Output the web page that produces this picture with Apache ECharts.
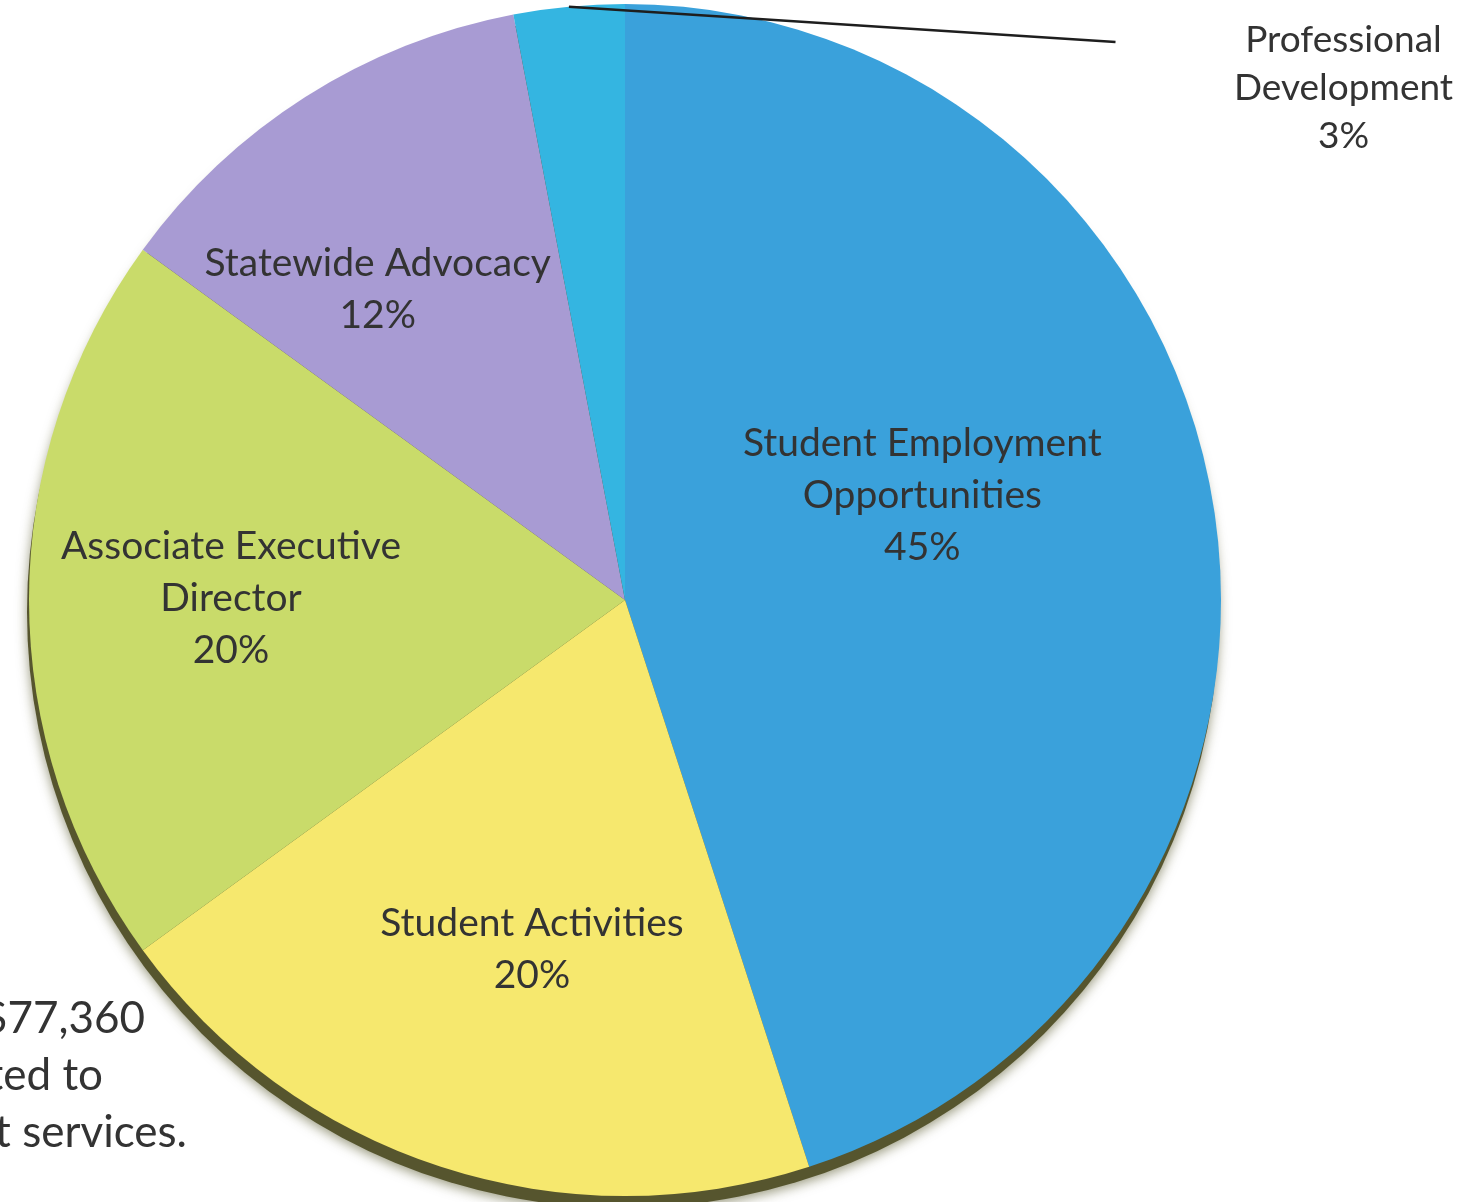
<!DOCTYPE html>
<html>
<head>
<meta charset="utf-8">
<script src="https://cdn.jsdelivr.net/npm/echarts@6/dist/echarts.min.js"></script>
<style>
html, body { margin: 0; padding: 0; background: #fff; }
#chart { width: 1471px; height: 1202px; }
</style>
</head>
<body>
<div id="chart"></div>
<script>
// 항목 / 비율
const categories = ['Student Employment Opportunities', 'Student Activities', 'Associate Executive Director', 'Statewide Advocacy', 'Professional Development'];
const shares = [45, 20, 20, 12, 3];
const labelText = ['Student Employment\nOpportunities', 'Student Activities', 'Associate Executive\nDirector', 'Statewide Advocacy', 'Professional\nDevelopment'];
const noteLines = ['$77,360', 'allocated to', 'student services.'];

const sliceColors = ['#3aa1db', '#f6e86e', '#c9db6a', '#a89bd3', '#34b5e1'];
// 라벨 위치 보정 (px)
const labelShift = [[0, -57], [0, 63], [-93, -2], [-86, -56], [0, 0]];

const chart = echarts.init(document.getElementById('chart'));

const pieCenter = [625, 600];
const pieRadius = 596;
const total = shares.reduce((a, b) => a + b, 0);

const option = {
    animation: false,
    backgroundColor: '#ffffff',
    series: [
        {
            // 아래쪽 그림자
            type: 'pie',
            silent: true,
            center: [pieCenter[0] - 2, pieCenter[1] + 12],
            radius: pieRadius,
            label: { show: false },
            labelLine: { show: false },
            itemStyle: {
                color: '#56552e',
                shadowBlur: 12,
                shadowOffsetY: 3,
                shadowColor: 'rgba(70,70,20,0.55)'
            },
            data: [{ name: 'total', value: total }]
        },
        {
            type: 'pie',
            center: pieCenter,
            radius: pieRadius,
            startAngle: 90,
            clockwise: true,
            color: sliceColors,
            itemStyle: { borderWidth: 0 },
            label: {
                show: true,
                position: 'inside',
                formatter: p => labelText[p.dataIndex] + '\n' + p.percent + '%',
                fontFamily: 'Lato',
                fontSize: 39,
                lineHeight: 52,
                color: '#333333',
                align: 'center'
            },
            labelLine: { show: false },
            labelLayout: function (p) {
                if (p.dataIndex === 4) {
                    return { x: 1287, y: -76, align: 'center', verticalAlign: 'top' };
                }
                return { dx: labelShift[p.dataIndex][0], dy: labelShift[p.dataIndex][1] };
            },
            data: categories.map((name, i) => {
                const item = { name: name, value: shares[i] };
                if (i === 4) {
                    item.label = {
                        position: 'outside',
                        fontSize: 37,
                        lineHeight: 48,
                        width: 230,
                        padding: [92, 0, 0, 113],
                        backgroundColor: 'rgba(255,255,255,0)'
                    };
                    item.labelLine = {
                        show: true,
                        showAbove: true,
                        length: 10,
                        length2: 0,
                        lineStyle: { color: '#1e1e1e', width: 2.5 }
                    };
                }
                return item;
            })
        }
    ],
    graphic: noteLines.map((t, i) => ({
        type: 'text',
        right: [1326, 1368, 1284][i],
        top: 997 + i * 57,
        style: {
            text: t,
            fontFamily: 'Lato',
            fontSize: 44,
            fill: '#333333'
        }
    }))
};

chart.setOption(option);
</script>
</body>
</html>
